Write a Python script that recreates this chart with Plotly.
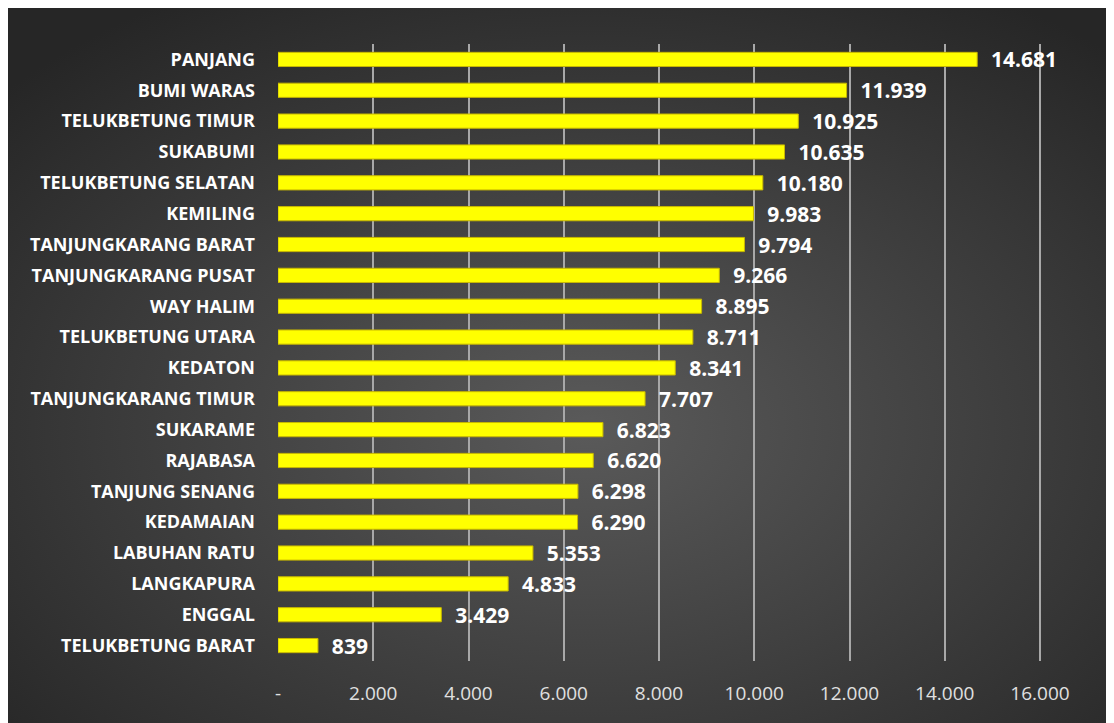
import base64
import plotly.graph_objects as go

# data
kecamatan = [
    "PANJANG", "BUMI WARAS", "TELUKBETUNG TIMUR", "SUKABUMI", "TELUKBETUNG SELATAN",
    "KEMILING", "TANJUNGKARANG BARAT", "TANJUNGKARANG PUSAT", "WAY HALIM",
    "TELUKBETUNG UTARA", "KEDATON", "TANJUNGKARANG TIMUR", "SUKARAME", "RAJABASA",
    "TANJUNG SENANG", "KEDAMAIAN", "LABUHAN RATU", "LANGKAPURA", "ENGGAL",
    "TELUKBETUNG BARAT",
]
jumlah = [14681, 11939, 10925, 10635, 10180, 9983, 9794, 9266, 8895, 8711,
          8341, 7707, 6823, 6620, 6298, 6290, 5353, 4833, 3429, 839]
tick_vals = [0, 2000, 4000, 6000, 8000, 10000, 12000, 14000, 16000]
tick_text = ["-", "2.000", "4.000", "6.000", "8.000", "10.000", "12.000", "14.000", "16.000"]

# page body adds an 8px white border, so pixel positions are shifted by 8
W, H = 1114, 723
L, R, T, B = 270, 0, 36, 70
pw, ph = W - L - R, H - T - B

# dark radial background like the original slide
svg = f"""<svg xmlns='http://www.w3.org/2000/svg' width='{W}' height='{H}'>
<defs><radialGradient id='g' cx='52%' cy='58%' r='70%'>
<stop offset='0%' stop-color='#5a5a5a'/><stop offset='100%' stop-color='#262626'/>
</radialGradient></defs><rect width='{W}' height='{H}' fill='url(#g)'/></svg>"""
bg_src = "data:image/svg+xml;base64," + base64.b64encode(svg.encode()).decode()

fig = go.Figure()
fig.add_trace(go.Bar(
    x=jumlah, y=kecamatan, orientation="h",
    width=0.46,
    marker=dict(color="#ffff00", line=dict(color="#c8b800", width=1)),
    text=jumlah,
    texttemplate="  %{x:,}",
    textposition="outside",
    constraintext="none",
    cliponaxis=False,
    textfont=dict(family="Open Sans", size=21, color="white", weight="bold"),
    hoverinfo="skip",
))

fig.update_layout(
    width=W, height=H,
    margin=dict(l=L, r=R, t=T, b=B),
    paper_bgcolor="#2a2a2a",
    plot_bgcolor="rgba(0,0,0,0)",
    separators=",.",
    showlegend=False,
    images=[dict(
        source=bg_src, xref="paper", yref="paper",
        x=-L / pw, y=1 + T / ph,
        sizex=W / pw, sizey=H / ph,
        xanchor="left", yanchor="top", sizing="stretch", layer="below",
    )],
)
fig.update_xaxes(
    range=[0, 16000 * pw / 762],
    tickvals=tick_vals, ticktext=tick_text,
    showgrid=True, gridcolor="#a8a8a8", gridwidth=2,
    zeroline=False, showline=False,
    ticklabelstandoff=19,
    tickfont=dict(family="Open Sans", size=19, color="#e0e0e0"),
)
fig.update_yaxes(
    autorange="reversed",
    showgrid=False, zeroline=False, showline=False,
    ticklabelstandoff=22,
    tickfont=dict(family="Open Sans", size=18, color="white", weight="bold"),
)

fig.write_html("out.html")
